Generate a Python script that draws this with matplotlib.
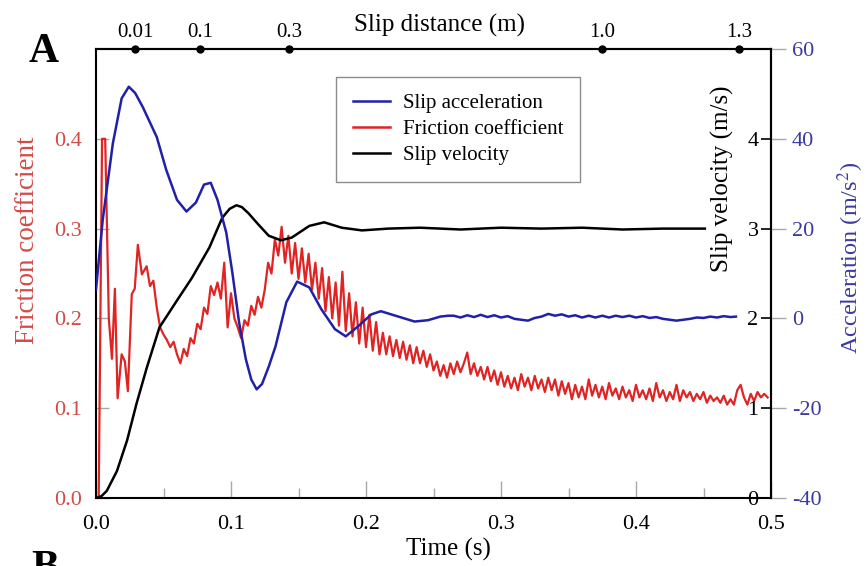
import numpy as np
import matplotlib
matplotlib.use('Agg')
import matplotlib.pyplot as plt
from matplotlib.ticker import MultipleLocator

plt.rcParams['font.family'] = 'Liberation Serif'
plt.rcParams['mathtext.fontset'] = 'stix'

# ---------------- data ----------------
# slip acceleration (m/s^2) vs time (s)
acc_t = [0, 0.005, 0.0125, 0.019, 0.0243, 0.029, 0.0346, 0.045, 0.052, 0.060,
         0.067, 0.074, 0.080, 0.085, 0.090, 0.0965, 0.101, 0.106, 0.111, 0.115,
         0.119, 0.123, 0.128, 0.133, 0.141, 0.149, 0.158, 0.167, 0.177, 0.185,
         0.194, 0.204, 0.211, 0.224, 0.236, 0.246, 0.255, 0.261,
         0.265, 0.270, 0.275, 0.280, 0.285, 0.290, 0.295, 0.300, 0.305, 0.310,
         0.315, 0.320, 0.325, 0.330, 0.335, 0.340, 0.345, 0.350, 0.355, 0.360,
         0.365, 0.370, 0.375, 0.380, 0.385, 0.390, 0.395, 0.400, 0.405, 0.410,
         0.415, 0.420, 0.425, 0.430, 0.435, 0.440, 0.445, 0.450, 0.455, 0.460,
         0.465, 0.470, 0.474]
acc = [6.4, 22, 39, 49, 51.6, 50.2, 47.1, 40.4, 33.1, 26.4,
       23.8, 25.8, 29.8, 30.2, 26.4, 19.1, 10.2, -0.9, -9.1, -13.6,
       -15.8, -14.6, -10.7, -6.2, 3.6, 8.2, 6.9, 2.0, -2.4, -4.0,
       -1.8, 0.9, 1.6, 0.4, -0.7, -0.4, 0.4, 0.6,
       0.6, 0.2, 0.7, 0.3, 0.8, 0.3, 0.7, 0.2, 0.5, -0.1,
       -0.3, -0.5, 0.1, 0.4, 1.0, 0.6, 0.9, 0.4, 0.7, 0.2,
       0.6, 0.2, 0.6, 0.2, 0.6, 0.3, 0.6, 0.2, 0.5, 0.1,
       0.3, -0.1, -0.3, -0.5, -0.3, -0.1, 0.2, 0.1, 0.4, 0.2,
       0.5, 0.3, 0.4]

# slip velocity (m/s) vs time (s)
vel_t = [0, 0.004, 0.008, 0.0155, 0.023, 0.030, 0.0376, 0.047, 0.060, 0.071,
         0.084, 0.0935, 0.099, 0.104, 0.108, 0.113, 0.120, 0.128, 0.137, 0.145,
         0.158, 0.169, 0.182, 0.197, 0.2165, 0.24, 0.27, 0.30, 0.33, 0.36,
         0.39, 0.42, 0.451]
vel = [0, 0.02, 0.08, 0.30, 0.64, 1.05, 1.45, 1.90, 2.20, 2.45,
       2.79, 3.12, 3.22, 3.26, 3.24, 3.17, 3.05, 2.92, 2.87, 2.90,
       3.03, 3.07, 3.01, 2.98, 3.00, 3.01, 2.99, 3.01, 3.00, 3.01,
       2.99, 3.00, 3.00]

# friction coefficient: onset (irregular samples) then the sampled record
fric_t_early = [0, 0.002, 0.0045, 0.0068, 0.0095, 0.0118, 0.014, 0.016, 0.019,
                0.0214, 0.0236, 0.0265, 0.0287, 0.031, 0.034]
fric_early = [0, 0.0, 0.40, 0.40, 0.20, 0.155, 0.233, 0.111, 0.160,
              0.152, 0.119, 0.227, 0.233, 0.282, 0.249]
fric_t0, fric_dt = 0.0375, 0.0025
fric_late = [
    0.258, 0.236, 0.242, 0.212, 0.190, 0.182, 0.176, 0.168, 0.174, 0.160,
    0.150, 0.166, 0.158, 0.178, 0.172, 0.194, 0.188, 0.212, 0.205, 0.236,
    0.226, 0.240, 0.222, 0.262, 0.190, 0.228, 0.200, 0.190, 0.178, 0.198,
    0.192, 0.214, 0.204, 0.224, 0.212, 0.232, 0.262, 0.250, 0.288, 0.270,
    0.302, 0.262, 0.292, 0.250, 0.284, 0.244, 0.278, 0.240, 0.272, 0.232,
    0.262, 0.222, 0.256, 0.208, 0.246, 0.200, 0.240, 0.192, 0.252, 0.186,
    0.228, 0.180, 0.218, 0.172, 0.212, 0.168, 0.204, 0.164, 0.196, 0.160,
    0.184, 0.160, 0.180, 0.158, 0.176, 0.156, 0.174, 0.154, 0.170, 0.150,
    0.168, 0.150, 0.164, 0.146, 0.160, 0.142, 0.152, 0.136, 0.148, 0.134,
    0.150, 0.138, 0.152, 0.140, 0.150, 0.162, 0.138, 0.150, 0.136, 0.146,
    0.132, 0.146, 0.130, 0.142, 0.126, 0.140, 0.124, 0.136, 0.122, 0.134,
    0.120, 0.138, 0.124, 0.134, 0.120, 0.136, 0.122, 0.132, 0.118, 0.134,
    0.120, 0.132, 0.114, 0.130, 0.116, 0.128, 0.110, 0.126, 0.112, 0.124,
    0.110, 0.132, 0.114, 0.126, 0.112, 0.124, 0.110, 0.128, 0.114, 0.122,
    0.110, 0.124, 0.112, 0.120, 0.108, 0.126, 0.112, 0.120, 0.110, 0.122,
    0.108, 0.128, 0.112, 0.120, 0.108, 0.118, 0.110, 0.126, 0.108, 0.120,
    0.112, 0.118, 0.108, 0.116, 0.110, 0.118, 0.106, 0.114, 0.108, 0.112,
    0.106, 0.114, 0.104, 0.110, 0.104, 0.120, 0.126, 0.112, 0.104, 0.116,
    0.108, 0.118, 0.112, 0.116, 0.112]

# slip distance marks on the top axis (time at which each distance is reached)
dist_t = [0.0289, 0.0770, 0.1430, 0.3748, 0.4763]
dist_labels = ['0.01', '0.1', '0.3', '1.0', '1.3']

time_ticks = [0.0, 0.1, 0.2, 0.3, 0.4, 0.5]
fric_ticks = [0.0, 0.1, 0.2, 0.3, 0.4]
vel_ticks = [0, 1, 2, 3, 4]
acc_ticks = [-40, -20, 0, 20, 40, 60]

fric_t = np.concatenate([fric_t_early,
                         fric_t0 + fric_dt * np.arange(len(fric_late))])
fric = np.concatenate([fric_early, fric_late])

# ---------------- figure ----------------
RED = '#e02424'
RED_TXT = '#d24b47'
BLUE = '#2020a8'
BLUE_TXT = '#3a3aa0'
TICK_GREY = '#a8a8a8'

W, H = 867, 566
fig = plt.figure(figsize=(W / 100, H / 100), dpi=100)
ax = fig.add_axes([96 / W, 1 - 498 / H, 675 / W, 449 / H])

l_fric, = ax.plot(fric_t, fric, color=RED, lw=1.6, label='Friction coefficient')
ax.set_xlim(0, 0.5)
ax.set_ylim(0, 0.5)
ax.set_yticks(fric_ticks, ['%.1f' % v for v in fric_ticks])
ax.tick_params(axis='y', direction='in', length=9, width=1, color=TICK_GREY,
               labelcolor=RED_TXT, labelsize=16, pad=10)
ax.set_xticks(time_ticks, ['%.1f' % v for v in time_ticks])
ax.xaxis.set_minor_locator(MultipleLocator(0.05))
ax.tick_params(axis='x', which='major', direction='in', length=12, width=1,
               color=TICK_GREY, labelsize=16, pad=12)
ax.tick_params(axis='x', which='minor', direction='in', length=7, width=1,
               color=TICK_GREY)
for s in ax.spines.values():
    s.set_linewidth(1.5)
ax.spines['right'].set_visible(False)

# velocity axis: a left-type axis moved onto the right edge
ax_v = ax.twinx()
l_vel, = ax_v.plot(vel_t, vel, color='black', lw=1.8, label='Slip velocity')
ax_v.set_ylim(0, 5)
ax_v.yaxis.tick_left()
ax_v.spines['left'].set_position(('axes', 1.0))
ax_v.spines['left'].set_linewidth(1.5)
for s in ['top', 'bottom', 'right']:
    ax_v.spines[s].set_visible(False)
ax_v.set_yticks(vel_ticks, [str(v) for v in vel_ticks])
ax_v.tick_params(axis='y', direction='out', length=7, width=1.2,
                 color='black', labelsize=16, pad=2)

# acceleration axis on the outside of the right edge
ax_a = ax.twinx()
l_acc, = ax_a.plot(acc_t, acc, color=BLUE, lw=1.8, label='Slip acceleration')
ax_a.set_ylim(-40, 60)
ax_a.set_yticks(acc_ticks, [str(v) for v in acc_ticks])
ax_a.tick_params(axis='y', direction='out', length=11, width=1,
                 color=TICK_GREY, labelcolor=BLUE_TXT, labelsize=16, pad=4)
for s in ['top', 'bottom', 'left']:
    ax_a.spines[s].set_visible(False)
ax_a.spines['right'].set_linewidth(1.5)

# slip distance along the top edge
sec = ax.secondary_xaxis('top')
sec.set_xticks(dist_t, dist_labels)
sec.tick_params(length=0, labelsize=15, pad=5)
sec.spines['top'].set_linewidth(1.5)
ax_a.plot(dist_t, [1] * len(dist_t), 'o', color='black', ms=5,
          transform=ax_a.get_xaxis_transform(), clip_on=False, zorder=6)

# axis titles
fig.text(440 / W, 1 - 25 / H, 'Slip distance (m)', ha='center', va='center',
         fontsize=18)
fig.text(448 / W, 1 - 549 / H, 'Time (s)', ha='center', va='center',
         fontsize=18)
fig.text(28 / W, 1 - 240 / H, 'Friction coefficient', rotation=90,
         ha='center', va='center', color=RED_TXT, fontsize=19.5)
fig.text(722 / W, 1 - 179 / H, 'Slip velocity (m/s)', rotation=90,
         ha='center', va='center', fontsize=18)
fig.text(851 / W, 1 - 258 / H, 'Acceleration (m/s$^2$)', rotation=90,
         ha='center', va='center', color=BLUE_TXT, fontsize=17.5)

# panel letters
fig.text(44 / W, 1 - 52 / H, 'A', ha='center', va='center',
         fontsize=30, fontweight='bold')
fig.text(45 / W, 1 - 550 / H, 'B', ha='center', va='top',
         fontsize=30, fontweight='bold')

leg = ax_a.legend(handles=[l_acc, l_fric, l_vel], loc='upper left',
                  bbox_to_anchor=(336 / W, 1 - 77 / H),
                  bbox_transform=fig.transFigure, borderaxespad=0,
                  fontsize=15, handlelength=1.8, handletextpad=0.6,
                  labelspacing=0.3, borderpad=0.8, fancybox=False,
                  framealpha=1)
leg.get_frame().set_edgecolor('#8c8c8c')
leg.get_frame().set_linewidth(1)
for h in leg.get_lines():
    h.set_linewidth(1.8)

fig.savefig('out.png', dpi=100)
